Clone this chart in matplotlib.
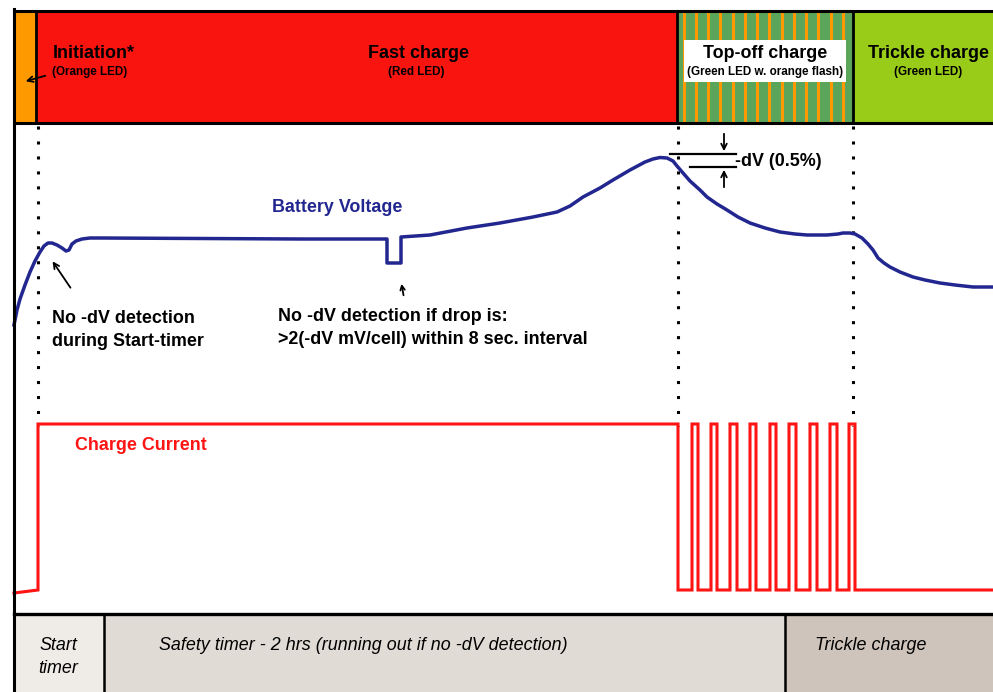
import matplotlib
matplotlib.use("Agg")
import matplotlib.pyplot as plt
from matplotlib.patches import Rectangle

plt.rcParams['font.family'] = ['Liberation Sans', 'DejaVu Sans']

# ---------------- data ----------------
phase_labels = ["Initiation*", "Fast charge", "Top-off charge", "Trickle charge"]
phase_sub = ["(Orange LED)", "(Red LED)", "(Green LED w. orange flash)", "(Green LED)"]
phase_edges = [14, 36, 677, 853, 993]
phase_colors = ["#ff9900", "#f91410", "#5aa55a", "#99cc19"]
stripe_pos = [684, 696, 708, 720, 733, 745, 757, 769, 782, 794, 806, 818, 831, 843]

timer_labels = ["Start\ntimer", "Safety timer - 2 hrs (running out if no -dV detection)", "Trickle charge"]
timer_edges = [14, 104, 785, 993]
timer_colors = ["#efebe7", "#e1dbd5", "#cfc4bb"]

volt_t = [14, 17, 20, 25, 30, 35, 40, 44, 48, 52, 57, 62, 66, 69, 72, 76, 82, 90, 100, 200, 300,
          387, 387, 401, 401, 430, 467, 500, 533, 557, 570, 583, 600, 613, 630, 645, 653, 660, 667,
          673, 677, 683, 690, 700, 707, 717, 727, 738, 750, 765, 780, 795, 807, 827, 838, 843, 850,
          855, 862, 868, 873, 878, 884, 890, 900, 913, 925, 940, 955, 973, 993]
volt_v = [325, 310, 299, 285, 272, 261, 252, 246, 243, 243, 245, 248, 251, 250, 244, 241, 239, 238,
          238, 238.5, 239, 239, 263, 263, 237, 235, 228, 223, 217, 212, 206, 197, 188, 180, 170, 162,
          159, 157.5, 158, 161, 166, 173, 181, 190, 197, 204, 210, 217, 223, 228, 232, 234, 235, 235,
          234, 233, 233, 234, 238, 244, 250, 258, 263, 267, 272, 277, 280, 283, 285, 287, 287]

cur_start = [(14, 593), (38, 590)]
cur_high = 424
cur_low = 590
cur_fast_end = 678
pulse_up = [692, 711, 730, 750, 770, 789, 810, 830, 849]
pulse_down = [698, 717, 737, 756, 776, 796, 817, 837, 855]
cur_end = 993

dotted_x = [38, 678, 853]

FS = 12.9
FS_SUB = 8.4

# ---------------- figure ----------------
fig = plt.figure(figsize=(9.93, 6.92), dpi=100)
ax = fig.add_axes([0, 0, 1, 1])
ax.set_xlim(0, 993)
ax.set_ylim(692, 0)
ax.axis('off')

# top phase bar
top_y0, top_y1 = 11, 123
for i, c in enumerate(phase_colors):
    ax.add_patch(Rectangle((phase_edges[i], top_y0), phase_edges[i + 1] - phase_edges[i],
                           top_y1 - top_y0, facecolor=c, edgecolor='none', zorder=1))
for sx in stripe_pos:
    ax.add_patch(Rectangle((sx - 1.5, top_y0), 3, top_y1 - top_y0, facecolor="#ff9900",
                           edgecolor='none', zorder=2))
ax.add_patch(Rectangle((684, 40), 162, 42, facecolor='white', edgecolor='none', zorder=3))
for x in phase_edges[1:-1]:
    ax.plot([x, x], [top_y0, top_y1], color='black', lw=2, zorder=4)
ax.plot([14, 993], [top_y0, top_y0], color='black', lw=2.2, zorder=4)
ax.plot([14, 993], [top_y1, top_y1], color='black', lw=2.2, zorder=4)

title_x = [53, 419, 765, 929]
title_ha = ['left', 'center', 'center', 'center']
sub_x = [90, 416, 765, 928]
for i in range(4):
    ax.text(title_x[i], 53, phase_labels[i], ha=title_ha[i], va='center', fontsize=FS,
            fontweight='bold', color='black', zorder=5)
    ax.text(sub_x[i], 72, phase_sub[i], ha='center', va='center', fontsize=FS_SUB,
            fontweight='bold', color='black', zorder=5)
ax.annotate('', xy=(23, 82), xytext=(48, 75),
            arrowprops=dict(arrowstyle='->', color='black', lw=1.3, mutation_scale=10), zorder=6)

# bottom timer bar
bot_y0 = 614
for i, c in enumerate(timer_colors):
    ax.add_patch(Rectangle((timer_edges[i], bot_y0), timer_edges[i + 1] - timer_edges[i],
                           692 - bot_y0, facecolor=c, edgecolor='none', zorder=1))
for x in timer_edges[1:-1]:
    ax.plot([x, x], [bot_y0, 692], color='black', lw=1.8, zorder=4)
ax.plot([14, 993], [bot_y0, bot_y0], color='black', lw=2.4, zorder=4)
ax.text(58, 657, timer_labels[0], ha='center', va='center', fontsize=FS, style='italic',
        linespacing=1.42, zorder=5)
ax.text(159, 645, timer_labels[1], ha='left', va='center', fontsize=FS, style='italic', zorder=5)
ax.text(815, 645, timer_labels[2], ha='left', va='center', fontsize=FS, style='italic', zorder=5)

# left border
ax.plot([14, 14], [9, 692], color='black', lw=2.2, zorder=6)

# dotted phase lines
for x in dotted_x:
    ax.plot([x, x], [126, 426], color='black', lw=2.2, linestyle=(0, (1, 3.9)), zorder=3)

# battery voltage
ax.plot(volt_t, volt_v, color='#22268f', lw=2.5, solid_joinstyle='round', zorder=4)

# charge current
cx = [p[0] for p in cur_start] + [cur_start[-1][0], cur_fast_end, cur_fast_end]
cy = [p[1] for p in cur_start] + [cur_high, cur_high, cur_low]
for u, d in zip(pulse_up, pulse_down):
    cx += [u, u, d, d]
    cy += [cur_low, cur_high, cur_high, cur_low]
cx.append(cur_end)
cy.append(cur_low)
ax.plot(cx, cy, color='#ff1414', lw=2.2, solid_joinstyle='miter', zorder=4)

# labels
ax.text(337, 207, "Battery Voltage", ha='center', va='center', fontsize=FS,
        fontweight='bold', color='#22268f', zorder=5)
ax.text(75, 445, "Charge Current", ha='left', va='center', fontsize=FS,
        fontweight='bold', color='#ff1414', zorder=5)
ax.text(52, 330, "No -dV detection\nduring Start-timer", ha='left', va='center', fontsize=FS,
        fontweight='bold', linespacing=1.42, zorder=5)
ax.annotate('', xy=(51, 259), xytext=(72, 290),
            arrowprops=dict(arrowstyle='->', color='black', lw=1.3, mutation_scale=10), zorder=6)
ax.text(278, 328, "No -dV detection if drop is:\n>2(-dV mV/cell) within 8 sec. interval",
        ha='left', va='center', fontsize=FS, fontweight='bold', linespacing=1.42, zorder=5)
ax.annotate('', xy=(401, 281), xytext=(404, 298),
            arrowprops=dict(arrowstyle='->', color='black', lw=1.3, mutation_scale=8), zorder=6)

# -dV annotation
ax.plot([670, 736], [154, 154], color='black', lw=1.6, zorder=5)
ax.plot([690, 736], [167, 167], color='black', lw=1.6, zorder=5)
ax.annotate('', xy=(724, 154), xytext=(724, 131),
            arrowprops=dict(arrowstyle='->', color='black', lw=1.3, mutation_scale=10), zorder=6)
ax.annotate('', xy=(724, 167), xytext=(724, 190),
            arrowprops=dict(arrowstyle='->', color='black', lw=1.3, mutation_scale=10), zorder=6)
ax.text(735, 162, "-dV (0.5%)", ha='left', va='center', fontsize=FS, fontweight='bold', zorder=5)

fig.savefig("out.png", dpi=100, facecolor='white')
